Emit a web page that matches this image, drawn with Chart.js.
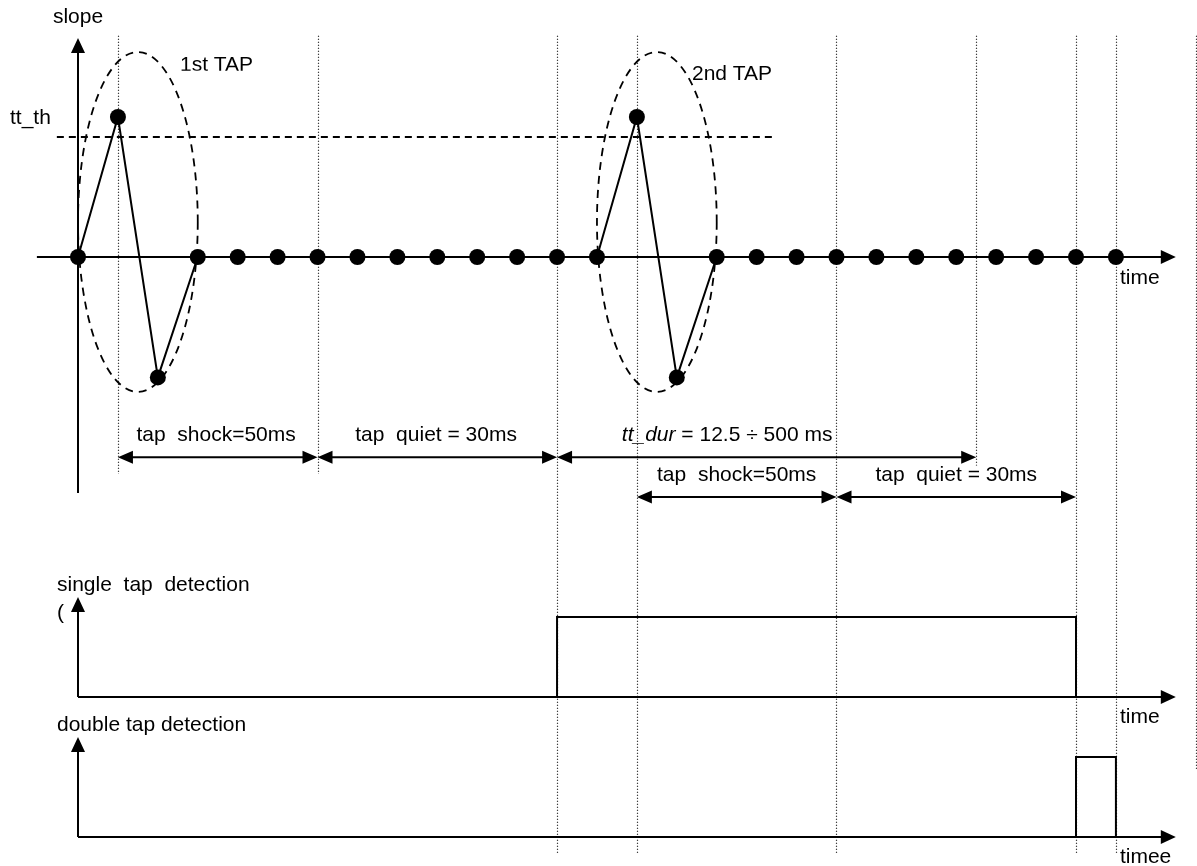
<!DOCTYPE html>
<html>
<head>
<meta charset="utf-8">
<script src="https://cdn.jsdelivr.net/npm/chart.js@4"></script>
<style>
  html, body { margin: 0; padding: 0; background: #fff; }
  #wrap { width: 1197px; height: 866px; }
</style>
</head>
<body>
<div id="wrap"><canvas id="TapChart" width="1197" height="866"></canvas></div>
<script>
// slope samples (one sample per tick of the time axis)
var sampleT = [0,1,2,3,4,5,6,7,8,9,10,11,12,13,14,15,16,17,18,19,20,21,22,23,24,25,26];
var slopeVals = [0,1,-0.86,0,0,0,0,0,0,0,0,0,0,0,1,-0.86,0,0,0,0,0,0,0,0,0,0,0];
var ttTh = 0.857;
var thresholdSpan = [-0.53, 17.46];

// detection outputs
var singleT = [0,12,12,25,25];
var singleV = [0,0,1,1,0];
var doubleT = [0,25,25,26,26];
var doubleV = [0,0,1,1,0];

// dotted time markers (time, top, bottom in slope units)
var markerT = [1,6,12,14,19,22.5,25,26,28];
var markerBottom = [-1.55,-1.55,-4.26,-4.26,-4.26,-1.49,-4.26,-4.26,-3.66];
var markerTop = 1.58;

// taps (centre time, ellipse)
var tapCentre = [1.5, 14.5];
var tapNames = ['1st TAP', '2nd TAP'];

// dimension arrows
var spanFrom = [1,6,12,14,19];
var spanTo = [6,12,22.5,19,25];
var spanRow = [-1.43,-1.43,-1.43,-1.714,-1.714];
var spanText = ['tap  shock=50ms','tap  quiet = 30ms','= 12.5 \u00f7 500 ms','tap  shock=50ms','tap  quiet = 30ms'];
var spanTextX = [3.46,8.97,16.26,16.5,22.0];
var spanTextY = [-1.271,-1.271,-1.271,-1.557,-1.557];

var FONT = '21px "Liberation Sans", Arial, sans-serif';

function pts(xs, ys) {
  return xs.map(function (x, i) { return {x: x, y: ys[i]}; });
}

function arrowHead(ctx, x, y, dir, len, half) {
  // dir: 'up', 'right', 'left'
  ctx.beginPath();
  if (dir === 'up') {
    ctx.moveTo(x, y); ctx.lineTo(x - half, y + len); ctx.lineTo(x + half, y + len);
  } else if (dir === 'right') {
    ctx.moveTo(x, y); ctx.lineTo(x - len, y - half); ctx.lineTo(x - len, y + half);
  } else {
    ctx.moveTo(x, y); ctx.lineTo(x + len, y - half); ctx.lineTo(x + len, y + half);
  }
  ctx.closePath();
  ctx.fill();
}

var diagramPlugin = {
  id: 'diagram',
  beforeDatasetsDraw: function (chart) {
    var ctx = chart.ctx, sx = chart.scales.x, sy = chart.scales.y,
        ys = chart.scales.ys, yd = chart.scales.yd;
    ctx.save();
    // dotted markers
    ctx.strokeStyle = '#000';
    ctx.lineWidth = 1.2;
    ctx.setLineDash([1, 2]);
    markerT.forEach(function (t, i) {
      var px = Math.round(sx.getPixelForValue(t)) + 0.5;
      ctx.beginPath();
      ctx.moveTo(px, sy.getPixelForValue(markerTop));
      ctx.lineTo(px, sy.getPixelForValue(markerBottom[i]));
      ctx.stroke();
    });
    // tap ellipses
    ctx.setLineDash([8, 6]);
    ctx.lineWidth = 1.8;
    tapCentre.forEach(function (t) {
      var cx = sx.getPixelForValue(t);
      var rx = sx.getPixelForValue(t + 1.5) - cx;
      var top = sy.getPixelForValue(1.464), bot = sy.getPixelForValue(-0.964);
      ctx.beginPath();
      ctx.ellipse(cx, (top + bot) / 2, rx, (bot - top) / 2, 0, 0, Math.PI * 2);
      ctx.stroke();
    });
    ctx.setLineDash([]);
    // axes
    ctx.lineWidth = 2;
    var x0 = sx.getPixelForValue(0), xEnd = sx.getPixelForValue(27.5);
    ctx.beginPath();
    ctx.moveTo(x0, sy.getPixelForValue(-1.686)); ctx.lineTo(x0, sy.getPixelForValue(1.5));
    ctx.moveTo(sx.getPixelForValue(-1.03), sy.getPixelForValue(0)); ctx.lineTo(xEnd - 8, sy.getPixelForValue(0));
    ctx.moveTo(x0, ys.getPixelForValue(0)); ctx.lineTo(x0, ys.getPixelForValue(1.1));
    ctx.moveTo(x0, ys.getPixelForValue(0)); ctx.lineTo(xEnd - 8, ys.getPixelForValue(0));
    ctx.moveTo(x0, yd.getPixelForValue(0)); ctx.lineTo(x0, yd.getPixelForValue(1.1));
    ctx.moveTo(x0, yd.getPixelForValue(0)); ctx.lineTo(xEnd - 8, yd.getPixelForValue(0));
    ctx.stroke();
    ctx.fillStyle = '#000';
    arrowHead(ctx, x0, sy.getPixelForValue(1.564), 'up', 15, 7);
    arrowHead(ctx, x0, ys.getPixelForValue(1.25), 'up', 15, 7);
    arrowHead(ctx, x0, yd.getPixelForValue(1.25), 'up', 15, 7);
    arrowHead(ctx, xEnd, sy.getPixelForValue(0), 'right', 15, 7);
    arrowHead(ctx, xEnd, ys.getPixelForValue(0), 'right', 15, 7);
    arrowHead(ctx, xEnd, yd.getPixelForValue(0), 'right', 15, 7);
    ctx.restore();
  },
  afterDatasetsDraw: function (chart) {
    var ctx = chart.ctx, sx = chart.scales.x, sy = chart.scales.y,
        ys = chart.scales.ys, yd = chart.scales.yd;
    ctx.save();
    ctx.fillStyle = '#000';
    ctx.strokeStyle = '#000';
    // dimension arrows
    ctx.lineWidth = 2;
    spanFrom.forEach(function (t, i) {
      var a = sx.getPixelForValue(t), b = sx.getPixelForValue(spanTo[i]);
      var py = sy.getPixelForValue(spanRow[i]);
      ctx.beginPath(); ctx.moveTo(a + 6, py); ctx.lineTo(b - 6, py); ctx.stroke();
      arrowHead(ctx, a, py, 'left', 15, 6.5);
      arrowHead(ctx, b, py, 'right', 15, 6.5);
    });
    // texts
    ctx.font = FONT;
    ctx.textBaseline = 'middle';
    ctx.textAlign = 'center';
    spanText.forEach(function (txt, i) {
      var px = sx.getPixelForValue(spanTextX[i]), py = sy.getPixelForValue(spanTextY[i]);
      if (i === 2) {
        ctx.font = 'italic ' + FONT;
        var w1 = ctx.measureText('tt_dur').width;
        ctx.font = FONT;
        var w2 = ctx.measureText(' ' + txt).width;
        var left = px - (w1 + w2) / 2;
        ctx.textAlign = 'left';
        ctx.font = 'italic ' + FONT;
        ctx.fillText('tt_dur', left, py);
        ctx.font = FONT;
        ctx.fillText(' ' + txt, left + w1, py);
        ctx.textAlign = 'center';
      } else {
        ctx.fillText(txt, px, py);
      }
    });
    ctx.fillText('slope', sx.getPixelForValue(0), sy.getPixelForValue(1.714));
    ctx.textAlign = 'left';
    ctx.fillText('tt_th', sx.getPixelForValue(-1.704), sy.getPixelForValue(0.993));
    // 1st TAP label is cut off at its lower edge in the original
    ctx.save();
    ctx.beginPath();
    ctx.rect(0, 0, chart.width, sy.getPixelForValue(1.33));
    ctx.clip();
    ctx.fillText(tapNames[0], sx.getPixelForValue(2.555), sy.getPixelForValue(1.371));
    ctx.restore();
    ctx.fillText(tapNames[1], sx.getPixelForValue(15.38), sy.getPixelForValue(1.307));
    var tx = sx.getPixelForValue(26.1);
    ctx.fillText('time', tx, sy.getPixelForValue(-0.15));
    ctx.fillText('time', tx, ys.getPixelForValue(-0.25));
    ctx.fillText('timee', tx, yd.getPixelForValue(-0.25));
    var lx = sx.getPixelForValue(-0.526);
    ctx.fillText('single  tap  detection', lx, ys.getPixelForValue(1.4));
    ctx.fillText('(', lx, ys.getPixelForValue(1.05));
    ctx.fillText('double tap detection', lx, yd.getPixelForValue(1.4));
    ctx.restore();
  }
};

new Chart('TapChart', {
  type: 'scatter',
  data: {
    datasets: [
      {
        data: pts(sampleT, slopeVals), yAxisID: 'y', showLine: true,
        borderColor: '#000', borderWidth: 2,
        pointRadius: 8, pointBackgroundColor: '#000', pointBorderWidth: 0
      },
      {
        data: pts(thresholdSpan, [ttTh, ttTh]), yAxisID: 'y', showLine: true,
        borderColor: '#000', borderWidth: 1.8, borderDash: [7, 5], pointRadius: 0
      },
      {
        data: pts(singleT, singleV), yAxisID: 'ys', showLine: true,
        borderColor: '#000', borderWidth: 2, pointRadius: 0
      },
      {
        data: pts(doubleT, doubleV), yAxisID: 'yd', showLine: true,
        borderColor: '#000', borderWidth: 2, pointRadius: 0
      }
    ]
  },
  options: {
    responsive: false,
    animation: false,
    devicePixelRatio: 1,
    layout: {padding: 0, autoPadding: false},
    plugins: {legend: {display: false}, tooltip: {enabled: false}},
    scales: {
      x: {type: 'linear', display: false, min: -1.954, max: 28.031},
      y: {type: 'linear', display: false, min: -4.35, max: 1.8357},
      ys: {type: 'linear', display: false, min: -2.1125, max: 8.7125},
      yd: {type: 'linear', display: false, min: -0.3625, max: 10.4625}
    }
  },
  plugins: [diagramPlugin]
});
</script>
</body>
</html>
